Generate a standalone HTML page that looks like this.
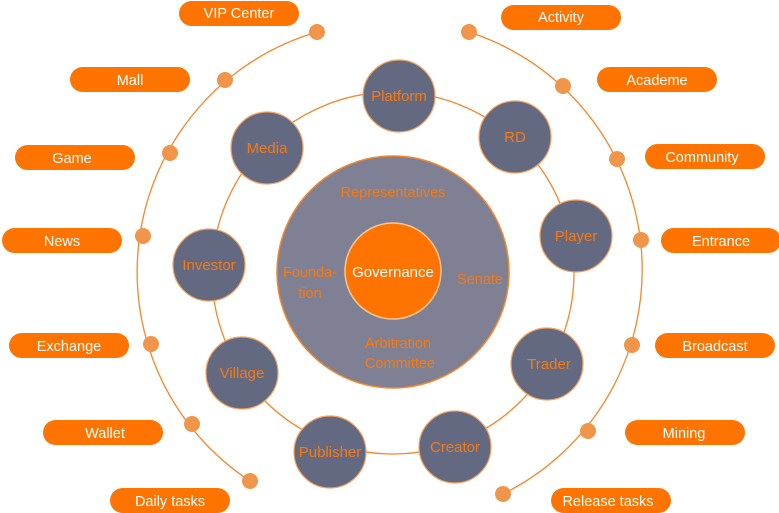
<!DOCTYPE html>
<html><head><style>body{margin:0;background:#fff}svg{display:block}text{font-family:"Liberation Sans",sans-serif}</style></head><body>
<svg width="779" height="513" viewBox="0 0 779 513">
<g fill="none" stroke="#f5862a" stroke-width="1.3">
<path d="M317 32 A250 250 0 0 0 250 481"/>
<path d="M469 32 A250 250 0 0 1 503 494"/>
<circle cx="393" cy="273" r="181"/>
</g>
<circle cx="393" cy="272" r="116" fill="#7f8094" stroke="#f5862a" stroke-width="1.5"/>
<circle cx="393" cy="271" r="48" fill="#ff7300" stroke="#fbc590" stroke-width="1.5"/>
<text x="393" y="277" fill="#fff" font-size="15" text-anchor="middle">Governance</text>
<g fill="#f77a12" font-size="14.5" text-anchor="middle">
<text x="393" y="197">Representatives</text>
<text x="310" y="277">Founda-</text><text x="310" y="298">tion</text>
<text x="480" y="284">Senate</text>
<text x="398" y="348">Arbitration</text><text x="400" y="368">Committee</text>
</g>
<g fill="#646982" stroke="#f7a35c" stroke-width="1.2">
<circle cx="399" cy="96" r="36"/><circle cx="267" cy="148" r="36"/><circle cx="515" cy="137" r="36"/>
<circle cx="576" cy="236" r="36"/><circle cx="209" cy="265" r="36"/><circle cx="547" cy="364" r="36"/>
<circle cx="242" cy="373" r="36"/><circle cx="455" cy="447" r="36"/><circle cx="330" cy="452" r="36"/>
</g>
<g fill="#f77a12" font-size="15" text-anchor="middle">
<text x="399" y="101">Platform</text><text x="267" y="153">Media</text><text x="515" y="142">RD</text>
<text x="576" y="241">Player</text><text x="209" y="270">Investor</text><text x="549" y="369">Trader</text>
<text x="242" y="378">Village</text><text x="455" y="452">Creator</text><text x="330" y="457">Publisher</text>
</g>
<g fill="#f0954a">
<circle cx="317" cy="32" r="8"/><circle cx="225" cy="80" r="8"/><circle cx="170" cy="153" r="8"/><circle cx="143" cy="236" r="8"/>
<circle cx="151" cy="344" r="8"/><circle cx="192" cy="424" r="8"/><circle cx="250" cy="481" r="8"/>
<circle cx="469" cy="32" r="8"/><circle cx="563" cy="86" r="8"/><circle cx="617" cy="159" r="8"/><circle cx="641" cy="240" r="8"/>
<circle cx="632" cy="345" r="8"/><circle cx="588" cy="431" r="8"/><circle cx="503" cy="494" r="8"/>
</g>
<g fill="#ff7300">
<rect x="179" y="1" width="120" height="25" rx="12.5"/><rect x="70" y="67" width="120" height="25" rx="12.5"/>
<rect x="15" y="145" width="120" height="25" rx="12.5"/><rect x="2" y="228" width="120" height="25" rx="12.5"/>
<rect x="9" y="333" width="120" height="25" rx="12.5"/><rect x="43" y="420" width="120" height="25" rx="12.5"/>
<rect x="110" y="488" width="120" height="25" rx="12.5"/>
<rect x="501" y="5" width="120" height="25" rx="12.5"/><rect x="597" y="67" width="120" height="25" rx="12.5"/>
<rect x="645" y="144" width="120" height="25" rx="12.5"/><rect x="661" y="228" width="120" height="25" rx="12.5"/>
<rect x="655" y="333" width="120" height="25" rx="12.5"/><rect x="625" y="420" width="120" height="25" rx="12.5"/>
<rect x="551" y="488" width="120" height="25" rx="12.5"/>
</g>
<g fill="#fff" font-size="14.5" text-anchor="middle">
<text x="239" y="18">VIP Center</text><text x="130" y="85">Mall</text><text x="72" y="163">Game</text>
<text x="62" y="246">News</text><text x="69" y="351">Exchange</text><text x="105" y="438">Wallet</text>
<text x="170" y="506">Daily  tasks</text>
<text x="561" y="22">Activity</text><text x="657" y="85">Academe</text><text x="702" y="162">Community</text>
<text x="721" y="246">Entrance</text><text x="715" y="351">Broadcast</text><text x="684" y="438">Mining</text>
<text x="608" y="506">Release tasks</text>
</g>
</svg>
</body></html>
